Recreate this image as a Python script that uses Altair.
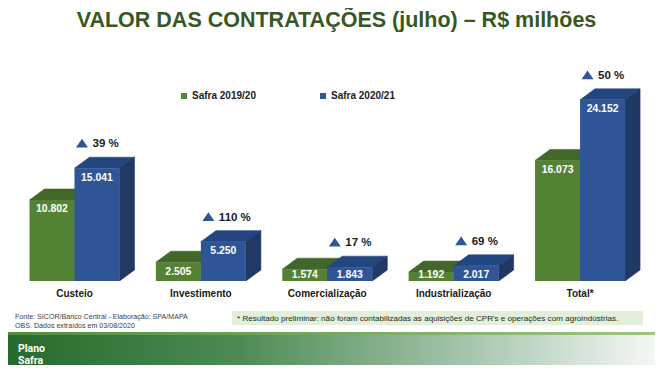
import altair as alt
import pandas as pd

# ---------------- data ----------------
categories = ["Custeio", "Investimento", "Comercialização", "Industrialização", "Total*"]
safra_2019_20 = [10802, 2505, 1574, 1192, 16073]
safra_2020_21 = [15041, 5250, 1843, 2017, 24152]
variacao = ["39 %", "110 %", "17 %", "69 %", "50 %"]
series = ["Safra 2019/20", "Safra 2020/21"]

title_text = "VALOR DAS CONTRATAÇÕES (julho) – R$ milhões"
fonte_1 = "Fonte: SICOR/Banco Central - Elaboração: SPA/MAPA"
fonte_2 = "OBS. Dados extraídos em 03/08/2020"
nota = "* Resultado preliminar: não foram contabilizadas as aquisições de CPR's e operações com agroindústrias."

# ---------------- layout / style ----------------
W_CH, H_CH = 647, 357
X_DOMAIN = [-0.526, 4.593]
Y_DOMAIN = [-11200, 36400]
px_x = W_CH / (X_DOMAIN[1] - X_DOMAIN[0])
px_y = H_CH / (Y_DOMAIN[1] - Y_DOMAIN[0])
BAR_W = 45 / px_x
DEPTH_X = 15 / px_x
DEPTH_Y = 11 / px_y

FRONT = {"Safra 2019/20": "#548235", "Safra 2020/21": "#2F5597"}
TOP = {"Safra 2019/20": "#41682A", "Safra 2020/21": "#24467F"}
SIDE = {"Safra 2019/20": "#3A5C24", "Safra 2020/21": "#1F3864"}
FONT = "Liberation Sans"

xs = alt.Scale(domain=X_DOMAIN, nice=False, zero=False)
ys = alt.Scale(domain=Y_DOMAIN, nice=False, zero=False)

fronts, faces = [], {s: [] for s in series}
for i, cat in enumerate(categories):
    for s, (name, vals) in enumerate(zip(series, [safra_2019_20, safra_2020_21])):
        v = vals[i]
        x0 = i - BAR_W + s * BAR_W
        x1 = x0 + BAR_W
        fronts.append(dict(cat=cat, serie=name, x0=x0, x1=x1, y0=0, y1=v,
                           xc=(x0 + x1) / 2,
                           ylab=max(v - 12.4 / px_y, 3.2 / px_y),
                           label=f"{v:,}".replace(",", ".")))
        for xx, ya, yb in [(x0, v, v), (x0 + DEPTH_X, v, v + DEPTH_Y),
                           (x1, v, v + DEPTH_Y), (x1 + DEPTH_X, v + DEPTH_Y, v + DEPTH_Y)]:
            faces[name].append(dict(face=f"{cat}-top", x=xx, ya=ya, yb=yb, fill=TOP[name]))
        for xx, ya, yb in [(x1, 0, v), (x1 + DEPTH_X, DEPTH_Y, v + DEPTH_Y)]:
            faces[name].append(dict(face=f"{cat}-side", x=xx, ya=ya, yb=yb, fill=SIDE[name]))

df_front = pd.DataFrame(fronts)
df_cat = pd.DataFrame({"cat": categories, "xi": list(range(len(categories))), "y": 0})
df_pct = pd.DataFrame({
    "cat": categories,
    "xb": [i + BAR_W / 2 for i in range(len(categories))],
    "xt": [i + BAR_W / 2 - 15 / px_x for i in range(len(categories))],
    "v": safra_2020_21,
    "vt": [v + 25 / px_y for v in safra_2020_21],
    "pct": variacao,
})

one = pd.DataFrame({"a": [0]})

# ---------------- layers ----------------
band_line = alt.Chart(one).mark_rect(
    color=alt.LinearGradient(gradient="linear", x1=0, x2=1, y1=0, y2=0,
                             stops=[alt.GradientStop(color="#4E8E3E", offset=0),
                                    alt.GradientStop(color="#9CC77C", offset=1)])
).encode(x=alt.value(0), x2=alt.value(W_CH), y=alt.value(324), y2=alt.value(327))

band = alt.Chart(one).mark_rect(
    color=alt.LinearGradient(gradient="linear", x1=0, x2=1, y1=0, y2=0,
                             stops=[alt.GradientStop(color="#276A2C", offset=0),
                                    alt.GradientStop(color="#4C8A52", offset=0.35),
                                    alt.GradientStop(color="#A3C3AB", offset=0.7),
                                    alt.GradientStop(color="#F4F7F4", offset=1)])
).encode(x=alt.value(0), x2=alt.value(W_CH), y=alt.value(327), y2=alt.value(H_CH))

note_box = alt.Chart(one).mark_rect(color="#E2EFD9").encode(
    x=alt.value(224), x2=alt.value(635), y=alt.value(303), y2=alt.value(317))


def static_text(txt, x, y, size, color, weight="normal", align="left", font=FONT):
    return alt.Chart(one).mark_text(
        text=txt, font=font, fontSize=size, color=color, fontWeight=weight,
        align=align, baseline="alphabetic"
    ).encode(x=alt.value(x), y=alt.value(y))


title = static_text(title_text, 328.5, 19, 21.5, "#385723", "bold", "center")
f1 = static_text(fonte_1, 7, 310.5, 7.1, "#404040")
f2 = static_text(fonte_2, 7, 319.5, 7.1, "#404040")
note = static_text(nota, 229, 313, 8.1, "#262626")
logo1 = static_text("Plano", 10, 343.5, 10.5, "white", "bold", font="Roboto")
logo2 = static_text("Safra", 10, 355.5, 10.5, "white", "bold", font="Roboto")


def face_layer(name):
    return alt.Chart(pd.DataFrame(faces[name])).mark_area(strokeWidth=0.6).encode(
        x=alt.X("x:Q", scale=xs, axis=None),
        y=alt.Y("ya:Q", scale=ys, axis=None),
        y2="yb:Q",
        detail="face:N",
        fill=alt.Fill("fill:N", scale=None),
        stroke=alt.Stroke("fill:N", scale=None),
    )


front = alt.Chart(df_front).mark_rect().encode(
    x=alt.X("x0:Q", scale=xs, axis=None),
    x2="x1:Q",
    y=alt.Y("y0:Q", scale=ys, axis=None),
    y2="y1:Q",
    color=alt.Color("serie:N",
                    scale=alt.Scale(domain=series, range=[FRONT[s] for s in series]),
                    legend=alt.Legend(orient="none", legendX=171, legendY=83,
                                      direction="horizontal", title=None,
                                      symbolType="square", symbolSize=36,
                                      symbolStrokeWidth=0, labelFont=FONT,
                                      labelFontWeight="bold", labelFontSize=10,
                                      labelColor="#222222", labelOffset=3,
                                      columnPadding=62, padding=0)),
)

values = alt.Chart(df_front).mark_text(
    font=FONT, fontSize=10.4, fontWeight="bold", color="white",
    baseline="alphabetic", align="center"
).encode(x=alt.X("xc:Q", scale=xs), y=alt.Y("ylab:Q", scale=ys), text="label:N")

cat_labels = alt.Chart(df_cat).mark_text(
    font=FONT, fontSize=10, fontWeight="bold", color="#1A1A1A",
    baseline="alphabetic", align="center", dy=16
).encode(x=alt.X("xi:Q", scale=xs), y=alt.Y("y:Q", scale=ys), text="cat:N")

tri = alt.Chart(df_pct).mark_point(
    shape="M-1,0.72L1,0.72L0,-0.72Z", size=144, filled=True, opacity=1,
    color="#2F5597", strokeWidth=0
).encode(x=alt.X("xt:Q", scale=xs), y=alt.Y("vt:Q", scale=ys))

pct = alt.Chart(df_pct).mark_text(
    font=FONT, fontSize=11.5, fontWeight="bold", color="#1A1A1A",
    baseline="alphabetic", align="left", dx=-4.5, dy=-21
).encode(x=alt.X("xb:Q", scale=xs), y=alt.Y("v:Q", scale=ys), text="pct:N")

chart = alt.layer(
    band_line, band, note_box, title, f1, f2, note, logo1, logo2,
    face_layer(series[0]), face_layer(series[1]), front, values, cat_labels, tri, pct
).properties(
    width=W_CH, height=H_CH, autosize=alt.AutoSizeParams(type="none"), padding=0,
    background="white"
).configure_view(strokeWidth=0)

chart.save("out.html", embed_options={"renderer": "svg", "actions": False})
